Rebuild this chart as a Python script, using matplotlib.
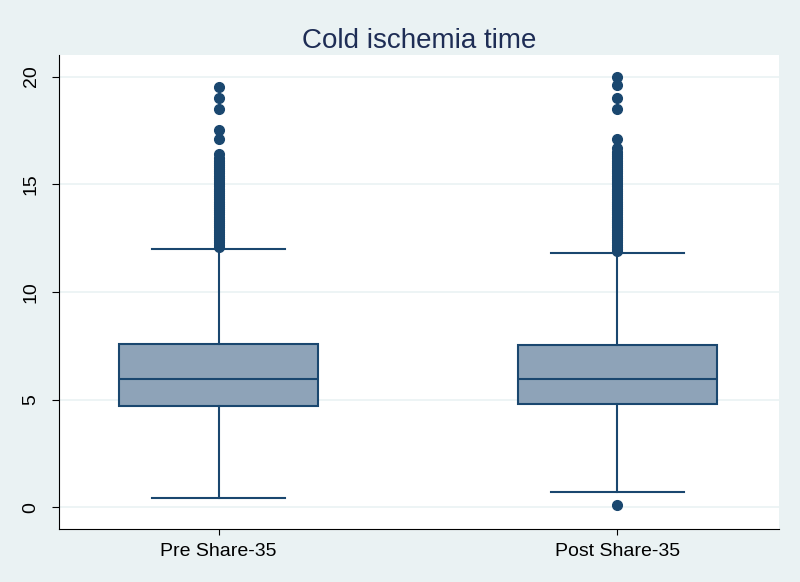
import matplotlib
matplotlib.use("Agg")
import matplotlib.pyplot as plt

plt.rcParams['font.family'] = ['Liberation Sans', 'DejaVu Sans']

groups = ["Pre Share-35", "Post Share-35"]
q1 = [4.72, 4.80]
med = [5.97, 5.97]
q3 = [7.59, 7.55]
whislo = [0.46, 0.70]
whishi = [12.0, 11.8]
fliers = [
    [12.1, 12.2, 12.3, 12.4, 12.5, 12.6, 12.7, 12.8, 12.9, 13.0, 13.1,
     13.2, 13.3, 13.4, 13.5, 13.6, 13.7, 13.8, 13.9, 14.0, 14.1, 14.2,
     14.3, 14.4, 14.5, 14.6, 14.7, 14.8, 14.9, 15.0, 15.1, 15.2, 15.3,
     15.4, 15.5, 15.6, 15.7, 15.8, 15.9, 16.0, 16.1, 16.2, 16.4,
     17.1, 17.5, 18.5, 19.0, 19.5],
    [0.1, 11.9, 12.0, 12.1, 12.2, 12.3, 12.4, 12.5, 12.6, 12.7, 12.8,
     12.9, 13.0, 13.1, 13.2, 13.3, 13.4, 13.5, 13.6, 13.7, 13.8, 13.9,
     14.0, 14.1, 14.2, 14.3, 14.4, 14.5, 14.6, 14.7, 14.8, 14.9, 15.0,
     15.1, 15.2, 15.3, 15.4, 15.5, 15.6, 15.7, 15.8, 15.9, 16.0, 16.1,
     16.2, 16.3, 16.4, 16.5, 16.7, 17.1, 18.5, 19.0, 19.6, 20.0],
]
yticks = [0, 5, 10, 15, 20]

navy = '#1a476f'
bg = '#eaf2f3'

stats = []
for i, g in enumerate(groups):
    stats.append(dict(label=g, q1=q1[i], med=med[i], q3=q3[i],
                      whislo=whislo[i], whishi=whishi[i], fliers=fliers[i]))

fig = plt.figure(figsize=(8, 5.82), dpi=100, facecolor=bg)
ax = fig.add_axes([59 / 800, 1 - 529 / 582, 720 / 800, 474 / 582])
ax.set_facecolor('white')

ax.bxp(stats, positions=[1, 2], widths=0.5, patch_artist=True,
       boxprops=dict(facecolor='#8ea3b8', edgecolor=navy, linewidth=1.5),
       medianprops=dict(color=navy, linewidth=1.5),
       whiskerprops=dict(color=navy, linewidth=1.5),
       capprops=dict(color=navy, linewidth=1.5),
       capwidths=0.335,
       flierprops=dict(marker='o', markerfacecolor=navy,
                       markeredgecolor=navy, markersize=7))

ax.set_xlim(0.6, 2.405)
ax.set_ylim(-1, 21)
ax.set_yticks(yticks)
ax.set_yticklabels([str(t) for t in yticks], rotation=90, va='center')
ax.yaxis.grid(True, color=bg, linewidth=1.2)
ax.set_axisbelow(True)
ax.tick_params(axis='both', labelsize=14, color='black')
ax.tick_params(axis='y', length=5, pad=9)
ax.tick_params(axis='x', length=4, pad=6)
for s in ['top', 'right']:
    ax.spines[s].set_visible(False)

ax.set_title('Cold ischemia time', fontsize=20, color='#1e2d55', pad=5)

fig.savefig('out.png', dpi=100, facecolor=bg)
